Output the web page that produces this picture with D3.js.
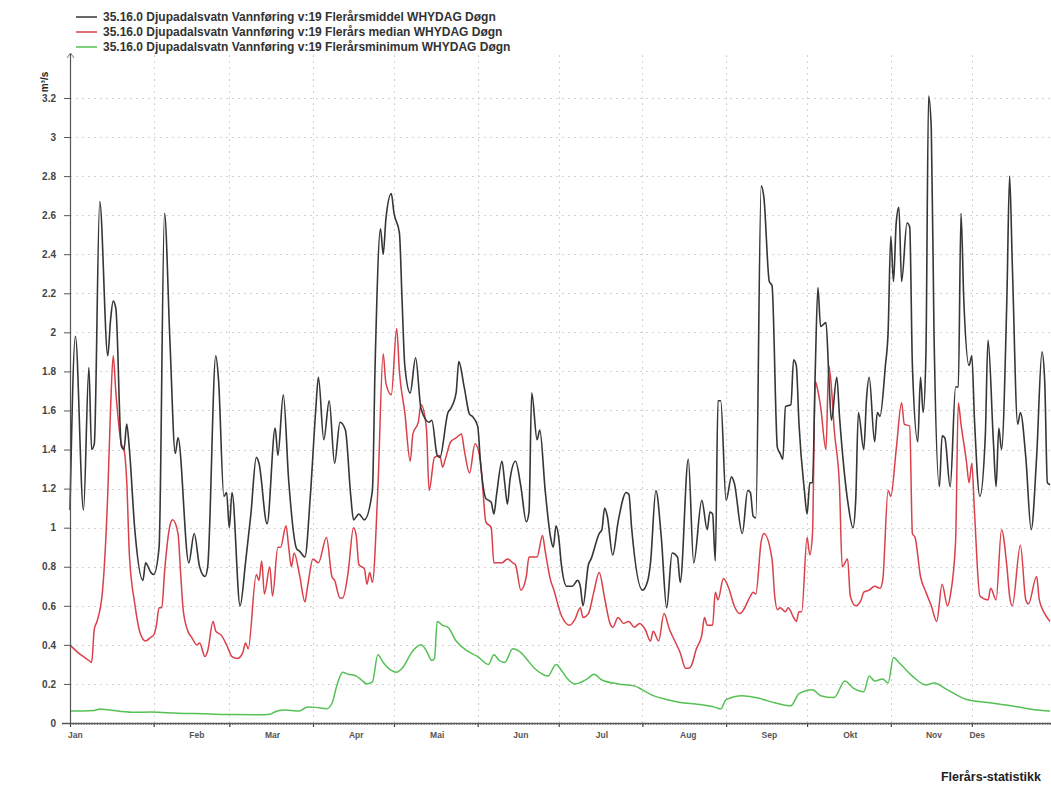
<!DOCTYPE html>
<html>
<head>
<meta charset="utf-8">
<script src="https://cdn.jsdelivr.net/npm/d3@7"></script>
<style>
  html, body { margin: 0; padding: 0; background: #fff; }
  svg { display: block; font-family: "Liberation Sans", Arial, sans-serif; }
</style>
</head>
<body>
<svg id="chart" width="1051" height="787"></svg>
<script>
// Day-of-year where each month starts, month names and where their labels sit (day units)
const monthStarts = [0, 31, 59, 90, 120, 151, 181, 212, 243, 273, 304, 334];
const monthNames = ["Jan", "Feb", "Mar", "Apr", "Mai", "Jun", "Jul", "Aug", "Sep", "Okt", "Nov", "Des"];
const monthLabelDays = [2, 47, 75, 106, 136, 167, 197, 229, 259, 289, 320, 336];

// Discharge ticks (m³/s)
const yTicks = [0, 0.2, 0.4, 0.6, 0.8, 1, 1.2, 1.4, 1.6, 1.8, 2, 2.2, 2.4, 2.6, 2.8, 3, 3.2];

const seriesNames = [
  "35.16.0 Djupadalsvatn Vannføring v:19 Flerårsmiddel WHYDAG Døgn",
  "35.16.0 Djupadalsvatn Vannføring v:19 Flerårs median WHYDAG Døgn",
  "35.16.0 Djupadalsvatn Vannføring v:19 Flerårsminimum WHYDAG Døgn"
];
const seriesColors = ["#363636", "#d9404a", "#55c155"];

// [day of year, m³/s] — multi-year mean
const meanFlow = [
  [0,1.09],[2,1.98],[5,1.09],[7,1.82],[8,1.40],[9,1.43],[11,2.67],[14,1.88],[15,2.06],[16,2.16],
  [17,2.12],[19,1.42],[20,1.40],[21,1.53],[22,1.40],[24,0.99],[27,0.73],[28,0.82],[30,0.77],[31,0.76],
  [33,0.90],[35,2.61],[37,1.96],[39,1.38],[40,1.46],[44,0.82],[46,0.97],[48,0.80],[50,0.75],[51,0.80],
  [54,1.88],[55,1.76],[57,1.16],[58,1.18],[59,1.00],[60,1.18],[63,0.60],[65,0.82],[67,1.07],[69,1.36],
  [70,1.33],[73,1.02],[76,1.51],[77,1.37],[79,1.68],[81,1.24],[84,0.89],[85,0.88],[87,0.85],[89,1.16],
  [91,1.60],[92,1.77],[94,1.45],[96,1.65],[98,1.33],[100,1.54],[102,1.50],[104,1.16],[105,1.04],[107,1.07],
  [109,1.04],[112,1.19],[113,1.83],[115,2.53],[116,2.40],[117,2.58],[119,2.71],[120,2.61],[122,2.51],[123,2.16],
  [124,1.83],[126,1.69],[128,1.87],[130,1.61],[133,1.54],[134,1.55],[136,1.37],[137,1.36],[140,1.59],[141,1.61],
  [143,1.69],[144,1.85],[146,1.72],[148,1.58],[149,1.57],[151,1.52],[152,1.34],[154,1.15],[156,1.13],[157,1.07],
  [158,1.17],[160,1.34],[161,1.23],[162,1.12],[163,1.25],[165,1.34],[167,1.21],[169,1.03],[170,1.08],[171,1.69],
  [173,1.45],[174,1.50],[176,1.19],[178,0.95],[179,0.90],[180,1.01],[181,0.95],[182,0.81],[184,0.70],[186,0.70],
  [188,0.73],[189,0.70],[190,0.60],[192,0.81],[193,0.84],[196,0.97],[197,0.99],[198,1.10],[199,1.06],[201,0.86],
  [203,1.03],[206,1.18],[207,1.17],[208,1.00],[212,0.68],[214,0.73],[215,0.82],[217,1.19],[219,0.95],[221,0.59],
  [223,0.87],[225,0.85],[226,0.72],[229,1.35],[231,0.82],[234,1.14],[236,0.99],[237,1.08],[238,1.07],[239,0.83],
  [240,1.65],[241,1.65],[243,1.14],[245,1.26],[246,1.23],[249,0.97],[251,1.19],[252,1.18],[253,1.06],[254,1.05],
  [256,2.75],[257,2.69],[259,2.26],[260,2.24],[262,1.41],[263,1.38],[264,1.35],[265,1.62],[267,1.63],[268,1.86],
  [269,1.83],[270,1.53],[272,1.19],[273,1.07],[274,1.23],[275,1.23],[276,1.79],[277,2.23],[278,2.03],[280,2.05],
  [281,1.79],[282,1.55],[284,1.77],[285,1.57],[288,1.14],[290,1.00],[291,1.14],[292,1.59],[294,1.40],[295,1.66],
  [296,1.77],[298,1.44],[299,1.59],[300,1.57],[302,1.83],[303,2.00],[304,2.49],[305,2.26],[306,2.56],[307,2.64],
  [308,2.26],[310,2.56],[311,2.54],[312,1.83],[314,1.44],[315,1.77],[316,1.59],[317,1.88],[318,3.21],[319,3.04],
  [320,2.00],[322,1.21],[323,1.47],[324,1.46],[326,1.21],[328,1.72],[329,1.72],[330,2.61],[331,2.18],[333,1.83],
  [334,1.88],[335,1.55],[337,1.16],[339,1.47],[340,1.96],[342,1.44],[343,1.21],[344,1.51],[345,1.40],[347,2.18],
  [348,2.80],[349,2.35],[351,1.53],[352,1.59],[354,1.36],[356,0.99],[358,1.36],[360,1.90],[361,1.75],[362,1.23],
  [363,1.22]
];

// [day of year, m³/s] — multi-year median
const medianFlow = [
  [0,0.40],[3,0.36],[5,0.34],[7,0.32],[8,0.31],[9,0.48],[10,0.52],[12,0.67],[14,1.18],[15,1.60],
  [16,1.88],[17,1.69],[19,1.43],[20,1.40],[21,1.24],[22,0.86],[24,0.61],[26,0.46],[28,0.42],[30,0.44],
  [31,0.45],[32,0.50],[33,0.59],[34,0.59],[35,0.77],[37,1.01],[38,1.04],[40,0.97],[41,0.76],[42,0.57],
  [44,0.46],[45,0.44],[47,0.40],[48,0.41],[50,0.34],[51,0.37],[53,0.52],[54,0.47],[56,0.45],[58,0.40],
  [60,0.34],[62,0.33],[64,0.36],[65,0.41],[66,0.38],[69,0.76],[70,0.73],[71,0.83],[72,0.66],[74,0.80],
  [75,0.65],[77,0.90],[78,0.90],[80,1.01],[81,0.90],[82,0.80],[83,0.87],[85,0.76],[87,0.62],[88,0.70],
  [90,0.84],[92,0.82],[95,0.95],[97,0.75],[98,0.73],[100,0.64],[101,0.64],[103,0.77],[105,1.00],[106,0.96],
  [107,0.81],[109,0.79],[110,0.71],[111,0.77],[112,0.72],[114,1.19],[116,1.89],[117,1.74],[119,1.68],[121,2.02],
  [122,1.80],[124,1.59],[126,1.34],[127,1.48],[129,1.54],[130,1.63],[132,1.51],[133,1.19],[135,1.36],[137,1.37],
  [138,1.31],[139,1.35],[141,1.44],[143,1.46],[145,1.48],[146,1.40],[148,1.28],[150,1.43],[152,1.34],[153,1.18],
  [154,1.03],[156,1.00],[157,0.82],[160,0.82],[162,0.84],[164,0.82],[165,0.81],[167,0.68],[169,0.75],[170,0.85],
  [173,0.85],[175,0.96],[176,0.88],[178,0.73],[179,0.69],[182,0.55],[185,0.50],[187,0.53],[189,0.59],[190,0.54],
  [192,0.56],[194,0.67],[196,0.77],[198,0.64],[200,0.51],[201,0.49],[203,0.54],[205,0.51],[207,0.52],[209,0.49],
  [211,0.51],[213,0.48],[215,0.42],[216,0.47],[218,0.42],[220,0.56],[222,0.48],[224,0.42],[226,0.36],[228,0.28],
  [229,0.28],[230,0.29],[232,0.38],[234,0.45],[235,0.54],[236,0.50],[238,0.50],[239,0.67],[240,0.63],[242,0.74],
  [244,0.69],[246,0.60],[248,0.56],[249,0.57],[252,0.65],[253,0.67],[254,0.66],[256,0.93],[257,0.97],[260,0.84],
  [261,0.65],[262,0.58],[263,0.59],[265,0.57],[266,0.59],[268,0.54],[269,0.52],[270,0.57],[271,0.57],[273,0.95],
  [274,0.86],[275,0.97],[276,1.75],[277,1.70],[278,1.62],[280,1.40],[281,1.83],[282,1.72],[283,1.51],[285,1.21],
  [286,0.80],[288,0.84],[289,0.65],[291,0.60],[293,0.63],[294,0.67],[296,0.68],[298,0.70],[300,0.69],[301,0.73],
  [303,1.19],[304,1.16],[306,1.40],[308,1.64],[309,1.53],[311,1.52],[312,0.97],[313,0.95],[315,0.75],[317,0.67],
  [319,0.60],[321,0.52],[323,0.71],[325,0.60],[326,0.65],[328,0.93],[329,1.64],[330,1.53],[332,1.34],[333,1.23],
  [334,1.33],[335,1.08],[337,0.65],[340,0.63],[341,0.69],[343,0.63],[345,0.99],[347,0.80],[348,0.65],[349,0.60],
  [352,0.91],[354,0.63],[355,0.61],[358,0.75],[359,0.63],[361,0.56],[363,0.52]
];

// [day of year, m³/s] — multi-year minimum
const minimumFlow = [
  [0,0.062],[5,0.062],[9,0.064],[11,0.072],[14,0.068],[23,0.055],[30,0.056],[40,0.050],[50,0.047],[60,0.043],
  [70,0.042],[74,0.045],[76,0.058],[79,0.066],[82,0.064],[85,0.062],[88,0.082],[91,0.080],[95,0.073],[97,0.10],
  [99,0.20],[101,0.26],[103,0.25],[106,0.24],[108,0.22],[110,0.20],[112,0.21],[114,0.35],[116,0.31],[118,0.28],
  [121,0.26],[123,0.28],[127,0.37],[130,0.40],[132,0.37],[134,0.32],[135,0.33],[136,0.52],[138,0.50],[140,0.49],
  [143,0.42],[147,0.37],[151,0.34],[155,0.30],[157,0.35],[159,0.32],[161,0.31],[164,0.38],[167,0.36],[169,0.33],
  [172,0.28],[175,0.25],[177,0.24],[180,0.30],[182,0.27],[184,0.23],[187,0.20],[192,0.23],[194,0.25],[197,0.22],
  [203,0.20],[209,0.19],[212,0.17],[216,0.14],[221,0.12],[226,0.105],[233,0.095],[239,0.080],[241,0.072],[243,0.12],
  [249,0.14],[254,0.13],[262,0.10],[267,0.088],[270,0.15],[275,0.17],[278,0.14],[283,0.13],[287,0.215],[290,0.18],
  [294,0.16],[296,0.24],[298,0.215],[301,0.225],[303,0.205],[305,0.335],[307,0.31],[312,0.24],[317,0.195],[320,0.205],
  [325,0.17],[332,0.12],[340,0.105],[345,0.095],[350,0.085],[357,0.068],[363,0.062]
];

const svg = d3.select("#chart");
const W = 1051, H = 787;
const plotLeft = 70, plotBottom = 723, plotTop = 58.9;

const x = d3.scaleLinear().domain([0, 365]).range([plotLeft, 1055.5]);
const y = d3.scaleLinear().domain([0, 3.4]).range([plotBottom, plotTop]);

svg.append("rect").attr("width", W).attr("height", H).attr("fill", "#fff");

// Dashed grid
const grid = svg.append("g").attr("stroke", "#d2d2d2").attr("stroke-width", 1)
  .attr("stroke-dasharray", "2,4").attr("shape-rendering", "crispEdges");
grid.selectAll("line.h").data(yTicks.filter(d => d > 0)).join("line")
  .attr("class", "h")
  .attr("x1", plotLeft).attr("x2", W)
  .attr("y1", d => Math.round(y(d)) + 0.5).attr("y2", d => Math.round(y(d)) + 0.5);
grid.selectAll("line.v").data(monthStarts.filter(d => d > 0)).join("line")
  .attr("class", "v")
  .attr("x1", d => Math.round(x(d)) + 0.5).attr("x2", d => Math.round(x(d)) + 0.5)
  .attr("y1", 55).attr("y2", plotBottom);

// Data lines
const line = d3.line()
  .x(d => x(d[0]))
  .y(d => y(d[1]))
  .curve(d3.curveMonotoneX);

const seriesData = [meanFlow, medianFlow, minimumFlow];
svg.append("g").selectAll("path").data([2, 1, 0]).join("path")
  .attr("d", i => line(seriesData[i]))
  .attr("fill", "none")
  .attr("stroke", i => seriesColors[i])
  .attr("stroke-width", i => i === 0 ? 1.6 : 1.5)
  .attr("stroke-linejoin", "round");

// Y axis
const yAxis = svg.append("g").attr("transform", `translate(${plotLeft},0)`)
  .call(d3.axisLeft(y).tickValues(yTicks).tickSize(6).tickPadding(8).tickFormat(d => String(d)));
yAxis.select(".domain").remove();
yAxis.selectAll(".tick line").attr("stroke", "#555");
yAxis.selectAll(".tick text")
  .attr("font-size", 10).attr("font-weight", "bold").attr("fill", "#444")
  .attr("font-family", "'Liberation Sans', Arial, sans-serif");
svg.append("line").attr("x1", plotLeft + 0.5).attr("x2", plotLeft + 0.5).attr("y1", 54).attr("y2", plotBottom)
  .attr("stroke", "#555").attr("stroke-width", 1.2);
svg.append("path").attr("d", `M${plotLeft - 3},58 L${plotLeft + 0.5},53 L${plotLeft + 4},58`)
  .attr("fill", "none").attr("stroke", "#777").attr("stroke-width", 1);

// X axis: daily minor ticks and month ticks
const xMinor = svg.append("g").attr("transform", `translate(0,${plotBottom})`)
  .call(d3.axisBottom(x).tickValues(d3.range(0, 364)).tickSize(2).tickFormat(""));
xMinor.select(".domain").remove();
xMinor.selectAll(".tick line").attr("stroke", "#777");
const xMajor = svg.append("g").attr("transform", `translate(0,${plotBottom})`)
  .call(d3.axisBottom(x).tickValues(monthStarts).tickSize(4).tickFormat(""));
xMajor.select(".domain").remove();
xMajor.selectAll(".tick line").attr("stroke", "#444").attr("stroke-width", 1.2);
svg.append("line").attr("x1", 62).attr("x2", W).attr("y1", plotBottom + 0.5).attr("y2", plotBottom + 0.5)
  .attr("stroke", "#555").attr("stroke-width", 1.6);

svg.append("g").selectAll("text").data(monthNames).join("text")
  .attr("x", (d, i) => x(monthLabelDays[i]))
  .attr("y", 738)
  .attr("text-anchor", "middle")
  .attr("font-size", 8.5).attr("font-weight", "bold").attr("fill", "#555")
  .text(d => d);

// Unit label
svg.append("text")
  .attr("transform", "translate(48,82) rotate(-90)")
  .attr("text-anchor", "middle")
  .attr("font-size", 10).attr("font-weight", "bold").attr("fill", "#222")
  .text("m³/s");

// Footer caption
svg.append("text")
  .attr("x", 1041).attr("y", 781)
  .attr("text-anchor", "end")
  .attr("font-size", 12.5).attr("font-weight", "bold").attr("fill", "#222")
  .text("Flerårs-statistikk");

// Legend
const legend = svg.append("g").selectAll("g").data(seriesNames).join("g")
  .attr("transform", (d, i) => `translate(0,${17 + i * 15})`);
legend.append("line").attr("x1", 76).attr("x2", 97).attr("y1", 0).attr("y2", 0)
  .attr("stroke", (d, i) => seriesColors[i]).attr("stroke-width", 1.5);
legend.append("text").attr("x", 103).attr("y", 4)
  .attr("font-size", 12).attr("font-weight", "bold").attr("fill", "#333")
  .text(d => d);
</script>
</body>
</html>
